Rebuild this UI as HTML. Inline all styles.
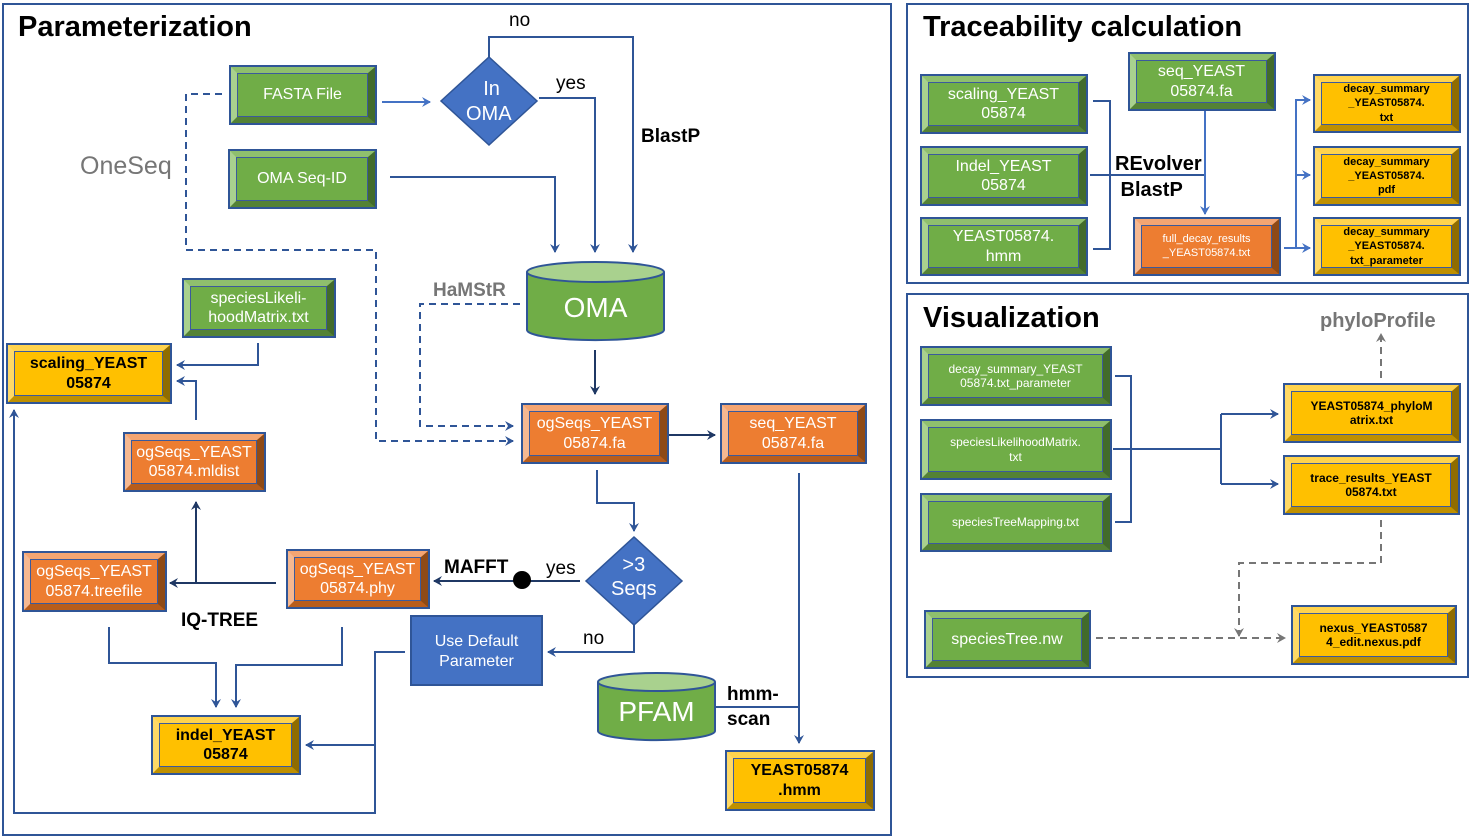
<!DOCTYPE html>
<html><head><meta charset="utf-8"><style>
*{box-sizing:border-box;margin:0;padding:0}
body{width:1470px;height:837px;background:#fff;position:relative;overflow:hidden;font-family:"Liberation Sans",Arial,sans-serif}
.b{position:absolute;border:2px solid #2f5597;}
.b>div{position:absolute;inset:0;border-style:solid;border-width:6px 7px 6px 6px;}
.b>div>div{position:absolute;inset:0;border:1px solid #3b5a9c;display:flex;align-items:center;justify-content:center;text-align:center;line-height:1.2}
.g>div{border-color:#8fbf6d #426b2b #548235 #a9d18e}
.g>div>div{background:#70ad47;color:#fff}
.o>div{border-color:#f4a572 #8e4a16 #b85d1c #f5b891}
.o>div>div{background:#ed7d31;color:#fff}
.y>div{border-color:#ffd34d #8f6c00 #bf9000 #ffd966}
.y>div>div{background:#ffc000;color:#000;font-weight:bold}
.p{position:absolute;border:2px solid #2f5597}
.t{position:absolute;white-space:nowrap}
svg{position:absolute;left:0;top:0}
</style></head><body>
<div class="p" style="left:2px;top:3px;width:890px;height:833px"></div>
<div class="p" style="left:906px;top:3px;width:563px;height:281px"></div>
<div class="p" style="left:906px;top:293px;width:563px;height:385px"></div>
<div class="t" style="left:18px;top:11px;font-size:29px;font-weight:bold">Parameterization</div>
<div class="t" style="left:923px;top:11px;font-size:29px;font-weight:bold">Traceability calculation</div>
<div class="t" style="left:923px;top:302px;font-size:29px;font-weight:bold">Visualization</div>

<svg width="1470" height="837">
<defs>
<marker id="a" markerWidth="10" markerHeight="10" refX="8" refY="5" orient="auto" markerUnits="userSpaceOnUse"><path d="M0,0 L9,5 L0,10 L3,5z" fill="#2f5597"/></marker>
<marker id="n" markerWidth="10" markerHeight="10" refX="8" refY="5" orient="auto" markerUnits="userSpaceOnUse"><path d="M0,0 L9,5 L0,10 L3,5z" fill="#1f3864"/></marker>
<marker id="l" markerWidth="10" markerHeight="10" refX="8" refY="5" orient="auto" markerUnits="userSpaceOnUse"><path d="M0,0 L9,5 L0,10 L3,5z" fill="#4472c4"/></marker>
<marker id="gr" markerWidth="10" markerHeight="10" refX="8" refY="5" orient="auto" markerUnits="userSpaceOnUse"><path d="M0,0 L9,5 L0,10 L3,5z" fill="#767676"/></marker>
</defs>
<g fill="none" stroke-width="2">
<path d="M222,94 H186 V250 H376 V441 H513" stroke="#2f5597" stroke-dasharray="7,5" marker-end="url(#a)"/>
<path d="M520,304 H420 V426 H513" stroke="#2f5597" stroke-dasharray="7,5" marker-end="url(#a)"/>
<path d="M382,102 H430" stroke="#4472c4" marker-end="url(#l)"/>
<path d="M489,57 V37 H633 V252" stroke="#2f5597" marker-end="url(#a)"/>
<path d="M539,98 H595 V252" stroke="#2f5597" marker-end="url(#a)"/>
<path d="M390,177 H555 V252" stroke="#2f5597" marker-end="url(#a)"/>
<path d="M595,350 V394" stroke="#1f3864" marker-end="url(#n)"/>
<path d="M669,435 H715" stroke="#1f3864" marker-end="url(#n)"/>
<path d="M597,470 V503 H634 V531" stroke="#2f5597" marker-end="url(#a)"/>
<path d="M799,473 V743" stroke="#2f5597" marker-end="url(#a)"/>
<path d="M715,707 H799" stroke="#2f5597"/>
<path d="M580,581 H434" stroke="#1f3864" marker-end="url(#n)"/>
<path d="M634,625 V652 H548" stroke="#2f5597" marker-end="url(#a)"/>
<path d="M276,583 H170" stroke="#1f3864" marker-end="url(#n)"/>
<path d="M196,583 V502" stroke="#1f3864" marker-end="url(#n)"/>
<path d="M196,420 V381 H177" stroke="#2f5597" marker-end="url(#a)"/>
<path d="M258,343 V365 H177" stroke="#2f5597" marker-end="url(#a)"/>
<path d="M109,627 V663 H216 V707" stroke="#2f5597" marker-end="url(#a)"/>
<path d="M342,627 V665 H236 V707" stroke="#2f5597" marker-end="url(#a)"/>
<path d="M405,652 H375 V745 H306" stroke="#2f5597" marker-end="url(#a)"/>
<path d="M375,745 V813 H14 V410" stroke="#2f5597" marker-end="url(#a)"/>
<path d="M1093,101 H1110 V249 H1093 M1090,175 H1205" stroke="#2f5597"/>
<path d="M1205,110 V214" stroke="#4472c4" marker-end="url(#l)"/>
<path d="M1284,248 H1296 V100 H1309 M1296,175 H1309 M1296,248 H1309" stroke="#4472c4"/>
<path d="M1296,100 H1310" stroke="#4472c4" marker-end="url(#l)"/>
<path d="M1296,175 H1310" stroke="#4472c4" marker-end="url(#l)"/>
<path d="M1296,248 H1310" stroke="#4472c4" marker-end="url(#l)"/>
<path d="M1115,376 H1131 V522 H1115 M1113,449 H1221 V414 M1221,449 V484" stroke="#2f5597"/>
<path d="M1221,414 H1278" stroke="#2f5597" marker-end="url(#a)"/>
<path d="M1221,484 H1278" stroke="#2f5597" marker-end="url(#a)"/>
<path d="M1381,378 V334" stroke="#767676" stroke-dasharray="7,5" marker-end="url(#gr)"/>
<path d="M1381,520 V563 H1239 V636" stroke="#767676" stroke-dasharray="7,5" marker-end="url(#gr)"/>
<path d="M1096,638 H1285" stroke="#767676" stroke-dasharray="7,5" marker-end="url(#gr)"/>
</g>
<circle cx="522" cy="580" r="9" fill="#000"/>
<polygon points="489,57 537,101 489,145 441,101" fill="#4472c4" stroke="#2f5597" stroke-width="1.5"/>
<polygon points="634,537 682,581 634,625 586,581" fill="#4472c4" stroke="#2f5597" stroke-width="1.5"/>
<rect x="411" y="616" width="131" height="69" fill="#4472c4" stroke="#2f5597" stroke-width="2"/>
<path d="M527,272 V330 A68,10 0 0 0 664,330 V272" fill="#70ad47" stroke="#2f5597" stroke-width="2"/>
<ellipse cx="595.5" cy="272" rx="68.5" ry="10" fill="#a9d18e" stroke="#2f5597" stroke-width="2"/>
<path d="M598,682 V731 A58,9 0 0 0 715,731 V682" fill="#70ad47" stroke="#2f5597" stroke-width="2"/>
<ellipse cx="656.5" cy="682" rx="58.5" ry="9" fill="#a9d18e" stroke="#2f5597" stroke-width="2"/>
</svg>

<div class="t" style="left:466px;top:77px;font-size:20px;color:#fff;text-align:center;line-height:25px">&nbsp;In<br>OMA</div>
<div class="t" style="left:611px;top:553px;font-size:20px;color:#fff;text-align:center;line-height:24px">&gt;3<br>Seqs</div>
<div class="t" style="left:411px;top:632px;width:131px;font-size:16px;color:#fff;text-align:center;line-height:20px">Use Default<br>Parameter</div>
<div class="t" style="left:527px;top:292px;width:137px;font-size:28px;color:#fff;text-align:center">OMA</div>
<div class="t" style="left:598px;top:696px;width:117px;font-size:28px;color:#fff;text-align:center">PFAM</div>

<div class="t" style="left:509px;top:10px;font-size:19px">no</div>
<div class="t" style="left:556px;top:73px;font-size:19px">yes</div>
<div class="t" style="left:641px;top:126px;font-size:19px;font-weight:bold">BlastP</div>
<div class="t" style="left:80px;top:152px;font-size:25px;color:#767676">OneSeq</div>
<div class="t" style="left:433px;top:280px;font-size:19px;font-weight:bold;color:#767676">HaMStR</div>
<div class="t" style="left:444px;top:557px;font-size:19px;font-weight:bold">MAFFT</div>
<div class="t" style="left:546px;top:558px;font-size:19px">yes</div>
<div class="t" style="left:583px;top:628px;font-size:19px">no</div>
<div class="t" style="left:181px;top:610px;font-size:19px;font-weight:bold">IQ-TREE</div>
<div class="t" style="left:727px;top:682px;font-size:19px;font-weight:bold;line-height:25px">hmm-<br>scan</div>
<div class="t" style="left:1115px;top:151px;font-size:20px;font-weight:bold;line-height:26px">REvolver<br>&nbsp;BlastP</div>
<div class="t" style="left:1320px;top:310px;font-size:20px;font-weight:bold;color:#767676">phyloProfile</div>

<div class="b g" style="left:229px;top:65px;width:148px;height:60px"><div><div style="font-size:16px">FASTA File</div></div></div>
<div class="b g" style="left:228px;top:149px;width:149px;height:60px"><div><div style="font-size:16px">OMA Seq-ID</div></div></div>
<div class="b g" style="left:182px;top:278px;width:154px;height:60px"><div><div style="font-size:16px">speciesLikeli-<br>hoodMatrix.txt</div></div></div>
<div class="b y" style="left:6px;top:343px;width:166px;height:61px"><div><div style="font-size:16px">scaling_YEAST<br>05874</div></div></div>
<div class="b o" style="left:123px;top:432px;width:143px;height:60px"><div><div style="font-size:16px">ogSeqs_YEAST<br>05874.mldist</div></div></div>
<div class="b o" style="left:22px;top:551px;width:145px;height:61px"><div><div style="font-size:16px">ogSeqs_YEAST<br>05874.treefile</div></div></div>
<div class="b o" style="left:286px;top:549px;width:144px;height:60px"><div><div style="font-size:16px">ogSeqs_YEAST<br>05874.phy</div></div></div>
<div class="b y" style="left:151px;top:715px;width:150px;height:60px"><div><div style="font-size:16px">indel_YEAST<br>05874</div></div></div>
<div class="b o" style="left:521px;top:403px;width:148px;height:61px"><div><div style="font-size:16px">ogSeqs_YEAST<br>05874.fa</div></div></div>
<div class="b o" style="left:720px;top:403px;width:147px;height:61px"><div><div style="font-size:16px">seq_YEAST<br>05874.fa</div></div></div>
<div class="b y" style="left:725px;top:750px;width:150px;height:61px"><div><div style="font-size:16px">YEAST05874<br>.hmm</div></div></div>

<div class="b g" style="left:920px;top:74px;width:168px;height:60px"><div><div style="font-size:16px">scaling_YEAST<br>05874</div></div></div>
<div class="b g" style="left:920px;top:146px;width:168px;height:60px"><div><div style="font-size:16px">Indel_YEAST<br>05874</div></div></div>
<div class="b g" style="left:920px;top:217px;width:168px;height:59px"><div><div style="font-size:16px">YEAST05874.<br>hmm</div></div></div>
<div class="b g" style="left:1128px;top:52px;width:148px;height:59px"><div><div style="font-size:16px">seq_YEAST<br>05874.fa</div></div></div>
<div class="b o" style="left:1133px;top:217px;width:148px;height:59px"><div><div style="font-size:11px">full_decay_results<br>_YEAST05874.txt</div></div></div>
<div class="b y" style="left:1313px;top:74px;width:148px;height:59px"><div><div style="font-size:11px;line-height:1.3">decay_summary<br>_YEAST05874.<br>txt</div></div></div>
<div class="b y" style="left:1313px;top:146px;width:148px;height:60px"><div><div style="font-size:11px;line-height:1.3">decay_summary<br>_YEAST05874.<br>pdf</div></div></div>
<div class="b y" style="left:1313px;top:217px;width:148px;height:59px"><div><div style="font-size:11px;line-height:1.3">decay_summary<br>_YEAST05874.<br>txt_parameter</div></div></div>

<div class="b g" style="left:920px;top:346px;width:192px;height:60px"><div><div style="font-size:12px">decay_summary_YEAST<br>05874.txt_parameter</div></div></div>
<div class="b g" style="left:920px;top:419px;width:192px;height:61px"><div><div style="font-size:12px">speciesLikelihoodMatrix.<br>txt</div></div></div>
<div class="b g" style="left:920px;top:493px;width:192px;height:59px"><div><div style="font-size:12px">speciesTreeMapping.txt</div></div></div>
<div class="b y" style="left:1283px;top:383px;width:178px;height:60px"><div><div style="font-size:12px">YEAST05874_phyloM<br>atrix.txt</div></div></div>
<div class="b y" style="left:1283px;top:455px;width:177px;height:60px"><div><div style="font-size:12px">trace_results_YEAST<br>05874.txt</div></div></div>
<div class="b g" style="left:924px;top:610px;width:167px;height:59px"><div><div style="font-size:16px">speciesTree.nw</div></div></div>
<div class="b y" style="left:1291px;top:605px;width:166px;height:60px"><div><div style="font-size:12px">nexus_YEAST0587<br>4_edit.nexus.pdf</div></div></div>
</body></html>
